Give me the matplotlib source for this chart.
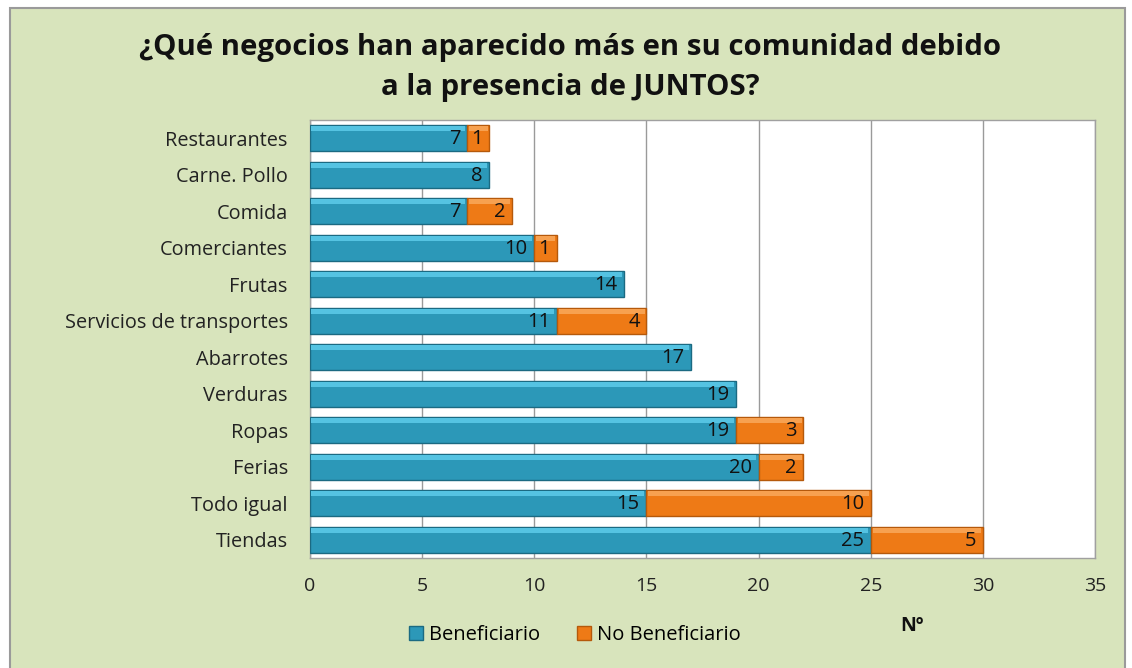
import matplotlib
matplotlib.use("Agg")
import matplotlib.pyplot as plt
from matplotlib.patches import Rectangle

plt.rcParams['font.family'] = ['Open Sans', 'DejaVu Sans']

# data, top to bottom as shown
categorias = ['Restaurantes', 'Carne. Pollo', 'Comida', 'Comerciantes', 'Frutas',
              'Servicios de transportes', 'Abarrotes', 'Verduras', 'Ropas', 'Ferias',
              'Todo igual', 'Tiendas']
beneficiario = [7, 8, 7, 10, 14, 11, 17, 19, 19, 20, 15, 25]
no_beneficiario = [1, 0, 2, 1, 0, 4, 0, 0, 3, 2, 10, 5]
x_ticks = [0, 5, 10, 15, 20, 25, 30, 35]

bg = '#d8e4bc'
azul = '#2c98b8'
azul_claro = '#55c3e2'
azul_borde = '#1b6a82'
naranja = '#ee7a16'
naranja_claro = '#f7a150'
naranja_borde = '#b5590b'

fig = plt.figure(figsize=(11.32, 6.68), dpi=100)
fig.patch.set_facecolor('white')

# chart area background with grey frame
fig.patches.append(Rectangle((10 / 1132, -0.01), 1115 / 1132, 660 / 668 + 0.01,
                             transform=fig.transFigure, facecolor=bg,
                             edgecolor='#9a9a9a', linewidth=1.5, zorder=-10))

ax = fig.add_axes([310 / 1132, 1 - 558 / 668, 785 / 1132, 438 / 668])
ax.set_facecolor('white')

y = list(range(len(categorias)))
h = 0.72
ax.barh(y, beneficiario, height=h, color=azul, edgecolor=azul_borde,
        linewidth=1, label='Beneficiario', zorder=3)
bars2 = ax.barh(y, no_beneficiario, left=beneficiario, height=h, color=naranja,
                edgecolor=naranja_borde, linewidth=1, label='No Beneficiario', zorder=3)
for b, v in zip(bars2, no_beneficiario):
    if v == 0:
        b.set_visible(False)

# lighter band on the upper part of each bar (bevel look)
yb = [v - h / 2 + 0.1 for v in y]
ax.barh(yb, [b - 0.15 for b in beneficiario], left=0.05, height=0.14,
        color=azul_claro, linewidth=0, zorder=4)
ax.barh(yb, [n - 0.15 if n > 0 else 0 for n in no_beneficiario],
        left=[b + 0.08 for b in beneficiario], height=0.14,
        color=naranja_claro, linewidth=0, zorder=4)

for i, (b, n) in enumerate(zip(beneficiario, no_beneficiario)):
    ax.text(b - 0.3, i + 0.03, str(b), ha='right', va='center', fontsize=14.5,
            color='#111111', zorder=5)
    if n > 0:
        ax.text(b + n - 0.3, i + 0.03, str(n), ha='right', va='center', fontsize=14.5,
                color='#111111', zorder=5)

ax.set_xlim(0, 35)
ax.set_ylim(len(categorias) - 0.5, -0.5)
ax.set_xticks(x_ticks)
ax.set_yticks(y)
ax.set_yticklabels(categorias, fontsize=14.3, color='#222222')
ax.tick_params(axis='x', labelsize=14, colors='#222222', length=0, pad=14)
ax.tick_params(axis='y', length=0, pad=16)
ax.grid(axis='x', color='#9a9a9a', linewidth=1, zorder=0)
for s in ax.spines.values():
    s.set_color('#a0a0a0')
    s.set_linewidth(1)

fig.text(0.5035, 1 - 48 / 668, '¿Qué negocios han aparecido más en su comunidad debido',
         ha='center', va='center', fontsize=21.2, fontweight='bold', color='#111111')
fig.text(0.5035, 1 - 88 / 668, 'a la presencia de JUNTOS?',
         ha='center', va='center', fontsize=21.2, fontweight='bold', color='#111111')

fig.text(912 / 1132, 1 - 626 / 668, 'Nº', ha='center', va='center', fontsize=14,
         fontweight='bold', color='#111111')

fig.legend(handles=ax.containers[:2], labels=['Beneficiario', 'No Beneficiario'],
           loc='center', bbox_to_anchor=(575 / 1132, 1 - 635 / 668), ncol=2,
           frameon=False, fontsize=14.5, handlelength=0.7, handleheight=0.7,
           handletextpad=0.3, columnspacing=1.8)

fig.savefig('out.png', dpi=100, facecolor=fig.get_facecolor())
